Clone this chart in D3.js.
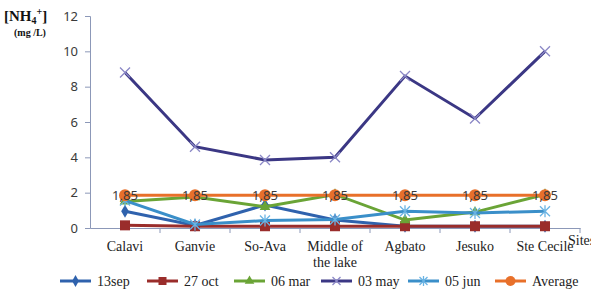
<!DOCTYPE html>
<html>
<head>
<meta charset="utf-8">
<script src="https://cdn.jsdelivr.net/npm/d3@7"></script>
<style>
  body { margin: 0; background: #fff; }
  svg { display: block; }
</style>
</head>
<body>
<svg id="chart" width="591" height="294"></svg>
<script>
  // data
  const sites = ["Calavi", "Ganvie", "So-Ava", "Middle of the lake", "Agbato", "Jesuko", "Ste Cecile"];
  const sep13 = [0.95, 0.15, 1.3, 0.45, 0.1, 0.1, 0.1];
  const oct27 = [0.15, 0.1, 0.1, 0.1, 0.1, 0.1, 0.1];
  const mar06 = [1.5, 1.75, 1.2, 1.9, 0.45, 0.9, 1.9];
  const may03 = [8.8, 4.6, 3.85, 4.0, 8.6, 6.2, 10.0];
  const jun05 = [1.55, 0.2, 0.42, 0.48, 0.95, 0.85, 0.95];
  const average = [1.85, 1.85, 1.85, 1.85, 1.85, 1.85, 1.85];
  const yTicks = [0, 2, 4, 6, 8, 10, 12];

  const series = [
    { name: "13sep", values: sep13, color: "#2f62ad", marker: "diamond" },
    { name: "27 oct", values: oct27, color: "#9a2d2b", marker: "square" },
    { name: "06 mar", values: mar06, color: "#6aa436", marker: "triangle" },
    { name: "03 may", values: may03, color: "#3b3784", marker: "cross" },
    { name: "05 jun", values: jun05, color: "#3a8fc9", marker: "star" },
    { name: "Average", values: average, color: "#e8702a", marker: "circle" }
  ];

  const svg = d3.select("#chart");
  const margin = { top: 16, left: 90 };
  const width = 490, height = 212;
  const g = svg.append("g").attr("transform", `translate(${margin.left},${margin.top})`);

  const x = d3.scaleBand().domain(sites).range([0, width]);
  const y = d3.scaleLinear().domain([0, 12]).range([height, 0]);
  const cx = d => x(d) + x.bandwidth() / 2;

  // y axis
  const yAxis = g.append("g")
    .call(d3.axisLeft(y).tickValues(yTicks).tickSize(5).tickPadding(7));
  yAxis.select(".domain").attr("stroke", "#8c98b8");
  yAxis.selectAll(".tick line").attr("stroke", "#8c98b8");
  yAxis.selectAll("text")
    .attr("font-family", "Noto Sans, sans-serif")
    .attr("font-size", 13)
    .attr("fill", "#3a3a3a");

  // x axis
  const xAxis = g.append("g")
    .attr("transform", `translate(0,${height})`)
    .call(d3.axisBottom(x).tickSize(0).tickFormat(""));
  xAxis.select(".domain").attr("stroke", "#8c98b8");
  xAxis.selectAll(".tick").remove();
  g.append("g").selectAll("line")
    .data(sites)
    .join("line")
    .attr("x1", d => x(d) + x.bandwidth())
    .attr("x2", d => x(d) + x.bandwidth())
    .attr("y1", height)
    .attr("y2", height + 5)
    .attr("stroke", "#8c98b8");

  // category labels
  const catText = g.append("g").selectAll("text")
    .data(sites)
    .join("text")
    .attr("x", cx)
    .attr("y", height + 23)
    .attr("text-anchor", "middle")
    .attr("font-family", "Liberation Serif, serif")
    .attr("font-size", 14)
    .attr("fill", "#222");
  catText.each(function (d) {
    const t = d3.select(this);
    const parts = d === "Middle of the lake" ? ["Middle of", "the lake"] : [d];
    parts.forEach((p, i) => {
      t.append("tspan").attr("x", cx(d)).attr("dy", i ? 16 : 0).text(p);
    });
  });

  g.append("text")
    .attr("x", width - 12)
    .attr("y", height + 17)
    .attr("font-family", "Liberation Serif, serif")
    .attr("font-size", 14)
    .attr("fill", "#222")
    .text("Sites");

  // y title
  const title = svg.append("text")
    .attr("x", 4)
    .attr("y", 21)
    .attr("font-family", "Liberation Serif, serif")
    .attr("font-weight", "bold")
    .attr("font-size", 15)
    .attr("fill", "#111");
  title.append("tspan").text("[NH");
  title.append("tspan").attr("font-size", 10).attr("dy", 3).text("4");
  title.append("tspan").attr("font-size", 10).attr("dy", -9).text("+");
  title.append("tspan").attr("dy", 6).text("]");
  svg.append("text")
    .attr("x", 14)
    .attr("y", 36)
    .attr("font-family", "Liberation Serif, serif")
    .attr("font-weight", "bold")
    .attr("font-size", 10)
    .attr("fill", "#111")
    .text("(mg /L)");

  // markers
  function drawMarker(sel, type, color, size) {
    if (type === "diamond") {
      sel.append("path").attr("d", d3.symbol(d3.symbolDiamond, size * 5)()).attr("fill", color);
    } else if (type === "square") {
      sel.append("rect").attr("x", -size / 2).attr("y", -size / 2)
        .attr("width", size).attr("height", size).attr("fill", color);
    } else if (type === "triangle") {
      sel.append("path").attr("d", d3.symbol(d3.symbolTriangle, size * 5)()).attr("fill", color);
    } else if (type === "circle") {
      sel.append("circle").attr("r", size / 2 + 1).attr("fill", color);
    } else if (type === "cross" || type === "star") {
      const h = size / 2;
      sel.append("path")
        .attr("d", `M${-h},${-h}L${h},${h}M${-h},${h}L${h},${-h}` + (type === "star" ? `M0,${-h - 1}L0,${h + 1}` : ""))
        .attr("stroke", type === "cross" ? "#8b88c6" : "#6ab3e3")
        .attr("stroke-width", 1.3)
        .attr("fill", "none");
    }
  }

  const line = d3.line()
    .x((d, i) => cx(sites[i]))
    .y(d => y(d));

  series.forEach(s => {
    const sg = g.append("g");
    sg.append("path")
      .datum(s.values)
      .attr("d", line)
      .attr("fill", "none")
      .attr("stroke", s.color)
      .attr("stroke-width", 3);
    sg.selectAll("g.pt")
      .data(s.values)
      .join("g")
      .attr("class", "pt")
      .attr("transform", (d, i) => `translate(${cx(sites[i])},${y(d)})`)
      .each(function () { drawMarker(d3.select(this), s.marker, s.color, 10); });
  });

  // data labels on the average
  g.append("g").selectAll("text")
    .data(average)
    .join("text")
    .attr("x", (d, i) => cx(sites[i]))
    .attr("y", d => y(d) + 5)
    .attr("text-anchor", "middle")
    .attr("font-family", "Noto Sans, sans-serif")
    .attr("font-size", 13)
    .attr("fill", "#3a3a3a")
    .text(d => d3.format(".2f")(d).replace(".", ","));

  // legend
  const legend = svg.append("g").attr("transform", "translate(60,281)");
  const item = legend.selectAll("g")
    .data(series)
    .join("g")
    .attr("transform", (d, i) => `translate(${i * 87},0)`);
  item.append("line")
    .attr("x1", 0).attr("x2", 31)
    .attr("stroke", d => d.color)
    .attr("stroke-width", 3);
  item.append("g")
    .attr("transform", "translate(15.5,0)")
    .each(function (d) { drawMarker(d3.select(this), d.marker, d.color, 8); });
  item.append("text")
    .attr("x", 37)
    .attr("y", 5)
    .attr("font-family", "Liberation Serif, serif")
    .attr("font-size", 14)
    .attr("fill", "#222")
    .text(d => d.name);
</script>
</body>
</html>
